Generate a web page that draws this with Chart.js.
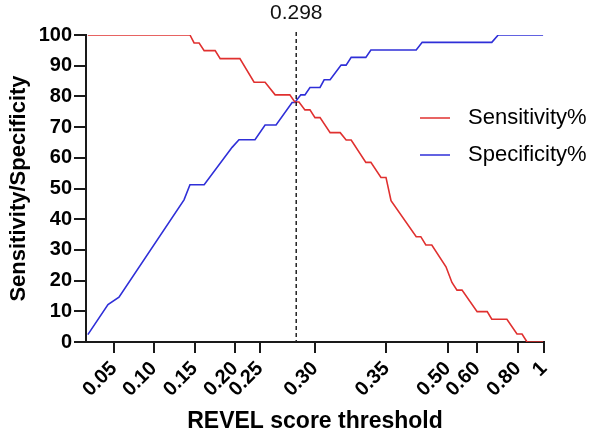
<!DOCTYPE html>
<html>
<head>
<meta charset="utf-8">
<script src="https://cdn.jsdelivr.net/npm/chart.js@4.4.0/dist/chart.umd.min.js"></script>
<style>
    body { margin: 0; background: #fff; }
</style>
</head>
<body>
<canvas id="graphCanvas" width="600" height="437"></canvas>
<script>
// x = rank position of the threshold along the axis (0..100)
const tickPos = [6.1, 14.8, 23.7, 32.5, 38.0, 50.0, 65.6, 79.0, 85.4, 94.3, 100];
const tickLabels = ['0.05', '0.10', '0.15', '0.20', '0.25', '0.30', '0.35', '0.50', '0.60', '0.80', '1'];
const cutoffPos = 45.9;
const cutoffLabel = '0.298';

const sensPos = [0.4, 22.7, 23.6, 24.7, 25.8, 28.2, 29.3, 33.6, 36.7, 39.1, 41.3, 44.5, 45.6, 46.5, 47.8, 48.9, 50.0, 51.1, 53.3, 55.5, 56.8, 57.9, 61.1, 62.2, 64.4, 65.5, 66.6, 72.1, 73.1, 74.2, 75.5, 78.6, 79.9, 81.0, 82.1, 85.4, 87.6, 88.6, 91.9, 94.1, 95.2, 96.3, 99.8];
const sensVal = [100, 100, 97.4, 97.4, 94.9, 94.9, 92.3, 92.3, 84.6, 84.6, 80.5, 80.5, 78.2, 78.2, 75.6, 75.6, 73.1, 73.1, 68.2, 68.2, 65.8, 65.8, 58.5, 58.5, 53.6, 53.6, 46.0, 34.3, 34.3, 31.6, 31.6, 24.5, 19.4, 16.9, 16.9, 9.9, 9.9, 7.4, 7.4, 2.6, 2.6, 0, 0];

const specPos = [0.4, 4.8, 7.2, 21.4, 22.7, 25.8, 31.9, 33.4, 36.9, 39.1, 41.5, 45.0, 45.6, 46.9, 47.8, 48.9, 51.1, 52.0, 53.3, 55.7, 56.8, 57.9, 61.1, 62.2, 72.1, 73.4, 88.6, 90.0, 99.8];
const specVal = [2.4, 12.2, 14.6, 46.3, 51.2, 51.2, 63.4, 65.9, 65.9, 70.7, 70.7, 78.0, 78.0, 80.5, 80.5, 82.9, 82.9, 85.4, 85.4, 90.2, 90.2, 92.7, 92.7, 95.1, 95.1, 97.6, 97.6, 100, 100];

const FONT = '"Liberation Sans", Arial, Helvetica, sans-serif';
const axisColor = '#1a1a1a';

// dashed cutoff line with its label
const cutoffPlugin = {
    id: 'cutoff',
    afterDatasetsDraw(chart) {
        const ctx = chart.ctx;
        const x = chart.scales.x.getPixelForValue(cutoffPos);
        ctx.save();
        ctx.strokeStyle = '#222';
        ctx.lineWidth = 1.5;
        ctx.setLineDash([4, 3]);
        ctx.beginPath();
        ctx.moveTo(x, 32);
        ctx.lineTo(x, chart.chartArea.bottom);
        ctx.stroke();
        ctx.setLineDash([]);
        ctx.fillStyle = '#111';
        ctx.font = '21px ' + FONT;
        ctx.textAlign = 'center';
        ctx.textBaseline = 'middle';
        ctx.fillText(cutoffLabel, x, 13);
        ctx.restore();
    }
};

// legend drawn to the right, partly over the plot
const legendPlugin = {
    id: 'sideLegend',
    afterDraw(chart) {
        const ctx = chart.ctx;
        ctx.save();
        ctx.font = '22px ' + FONT;
        ctx.textBaseline = 'middle';
        chart.data.datasets.forEach((ds, i) => {
            const y = 118 + i * 37;
            ctx.strokeStyle = ds.borderColor;
            ctx.lineWidth = 1.5;
            ctx.beginPath();
            ctx.moveTo(420, y);
            ctx.lineTo(450, y);
            ctx.stroke();
            ctx.fillStyle = '#000';
            ctx.fillText(ds.label, 468, y);
        });
        ctx.restore();
    }
};

const ctx = document.getElementById('graphCanvas').getContext('2d');
const chart = new Chart(ctx, {
    type: 'line',
    data: {
        datasets: [
            {
                label: 'Sensitivity%',
                data: sensPos.map((x, i) => ({ x, y: sensVal[i] })),
                borderColor: '#e0302f',
                borderWidth: 1.6,
                pointRadius: 0,
                fill: false,
                tension: 0,
            },
            {
                label: 'Specificity%',
                data: specPos.map((x, i) => ({ x, y: specVal[i] })),
                borderColor: '#2f2fd8',
                borderWidth: 1.6,
                pointRadius: 0,
                fill: false,
                tension: 0,
            },
        ],
    },
    options: {
        responsive: false,
        animation: false,
        layout: { padding: { top: 35, right: 56, left: 0, bottom: 0 } },
        plugins: {
            legend: { display: false },
            tooltip: { enabled: false },
        },
        scales: {
            x: {
                type: 'linear',
                min: 0,
                max: 100,
                afterBuildTicks: (scale) => {
                    scale.ticks = tickPos.map(v => ({ value: v }));
                },
                afterFit: (scale) => { scale.height = 95; },
                grid: {
                    drawOnChartArea: false,
                    drawTicks: true,
                    tickLength: 11,
                    color: axisColor,
                    lineWidth: 2,
                },
                border: { color: axisColor, width: 2 },
                ticks: {
                    autoSkip: false,
                    minRotation: 45,
                    maxRotation: 45,
                    padding: 4,
                    color: '#000',
                    font: { family: FONT, size: 20, weight: 'bold' },
                    callback: (value, index) => tickLabels[index],
                },
                title: {
                    display: true,
                    text: 'REVEL score threshold',
                    color: '#000',
                    padding: { top: 0, bottom: 2 },
                    font: { family: FONT, size: 23, weight: 'bold', lineHeight: 1.2 },
                },
            },
            y: {
                min: 0,
                max: 100,
                afterFit: (scale) => { scale.width = 86; },
                grid: {
                    drawOnChartArea: false,
                    drawTicks: true,
                    tickLength: 12,
                    color: axisColor,
                    lineWidth: 2,
                },
                border: { color: axisColor, width: 2 },
                ticks: {
                    stepSize: 10,
                    padding: 2,
                    color: '#000',
                    font: { family: FONT, size: 20, weight: 'bold' },
                },
                title: {
                    display: true,
                    text: 'Sensitivity/Specificity',
                    color: '#000',
                    padding: 6,
                    font: { family: FONT, size: 22, weight: 'bold', lineHeight: 1.2 },
                },
            },
        },
    },
    plugins: [cutoffPlugin, legendPlugin],
});
</script>
</body>
</html>
